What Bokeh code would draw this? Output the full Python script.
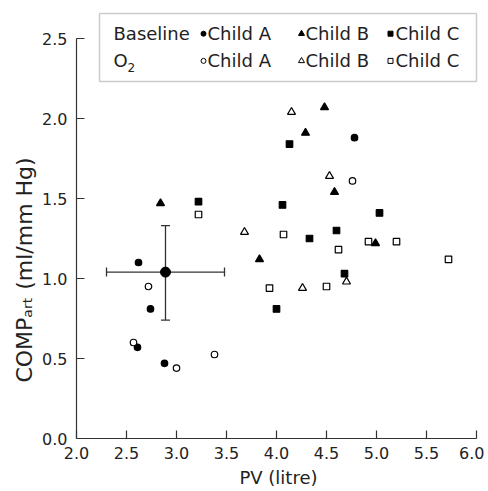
from bokeh.plotting import figure
from bokeh.models import (ColumnDataSource, Whisker, TeeHead, Label, BoxAnnotation,
                          Range1d, FixedTicker, NumeralTickFormatter)
from bokeh.embed import file_html
from bokeh.resources import INLINE

# ---------------- data ----------------
a_base_pv = [2.62, 2.74, 2.61, 2.88, 4.78]
a_base_comp = [1.10, 0.81, 0.57, 0.47, 1.88]
a_o2_pv = [2.72, 2.57, 3.00, 3.38, 4.76]
a_o2_comp = [0.95, 0.60, 0.44, 0.525, 1.61]

b_base_pv = [2.84, 3.83, 4.48, 4.29, 4.58, 4.99]
b_base_comp = [1.47, 1.12, 2.07, 1.91, 1.54, 1.22]
b_o2_pv = [3.68, 4.15, 4.53, 4.70, 4.26]
b_o2_comp = [1.29, 2.04, 1.64, 0.98, 0.94]

c_base_pv = [3.22, 4.13, 4.06, 5.03, 4.60, 4.33, 4.68, 4.00]
c_base_comp = [1.48, 1.84, 1.46, 1.41, 1.30, 1.25, 1.03, 0.81]
c_o2_pv = [3.22, 4.07, 4.92, 5.20, 4.62, 5.72, 3.93, 4.50]
c_o2_comp = [1.40, 1.275, 1.23, 1.23, 1.18, 1.12, 0.94, 0.95]

mean_pv = [2.89]
mean_comp = [1.04]
pv_lo = [2.30]
pv_hi = [3.48]
comp_lo = [0.74]
comp_hi = [1.33]

x_ticks = [2.0, 2.5, 3.0, 3.5, 4.0, 4.5, 5.0, 5.5, 6.0]
y_ticks = [0.0, 0.5, 1.0, 1.5, 2.0, 2.5]

FONT = "DejaVu Sans"
INK = "#222222"
NBSP = "\u00a0"

p = figure(frame_width=404, frame_height=428,
           x_range=Range1d(2.0, 6.04), y_range=Range1d(0.0, 2.675),
           output_backend="svg", toolbar_location=None,
           min_border_left=76, min_border_right=4, min_border_top=10, min_border_bottom=50)
p.outline_line_color = None
p.grid.visible = False
p.background_fill_color = "white"

for ax in (p.xaxis[0], p.yaxis[0]):
    ax.axis_line_color = "#333333"
    ax.axis_line_width = 1.2
    ax.major_tick_line_color = "#333333"
    ax.major_tick_line_width = 1.2
    ax.major_tick_in = 8
    ax.major_tick_out = 0
    ax.minor_tick_line_color = None
    ax.major_label_text_font = FONT
    ax.major_label_text_font_size = "16px"
    ax.major_label_text_color = INK
    ax.formatter = NumeralTickFormatter(format="0.0")
    ax.axis_label_text_font = FONT
    ax.axis_label_text_font_style = "normal"
    ax.axis_label_text_color = INK

p.xaxis[0].ticker = FixedTicker(ticks=x_ticks)
p.yaxis[0].ticker = FixedTicker(ticks=y_ticks)
p.xaxis[0].bounds = (2.0, 6.0)
p.yaxis[0].bounds = (0.0, 2.5)
p.xaxis[0].major_label_standoff = 8
p.yaxis[0].major_label_standoff = 9

p.xaxis[0].axis_label = "PV (litre)"
p.xaxis[0].axis_label_text_font_size = "18px"
p.xaxis[0].axis_label_standoff = 5
# trailing no-break spaces move the visible text towards the bottom of the axis
p.yaxis[0].axis_label = "COMP\u2090\u1d63\u209c (ml/mm Hg)" + NBSP * 13
p.yaxis[0].axis_label_text_font_size = "22px"
p.yaxis[0].axis_label_standoff = 2

# ---------------- points ----------------
def pts(xs, ys, marker, filled, size):
    src = ColumnDataSource(dict(x=xs, y=ys))
    p.scatter("x", "y", source=src, marker=marker, size=size,
              fill_color="black" if filled else "white",
              line_color="black", line_width=1.2)

# error bars for the mean
err = ColumnDataSource(dict(x=mean_pv, y=mean_comp, xl=pv_lo, xh=pv_hi, yl=comp_lo, yh=comp_hi))
for kw in (dict(base="y", lower="xl", upper="xh", dimension="width"),
           dict(base="x", lower="yl", upper="yh", dimension="height")):
    w = Whisker(source=err, line_color="#333333", line_width=1.3,
                upper_head=TeeHead(size=9, line_color="#333333", line_width=1.3),
                lower_head=TeeHead(size=9, line_color="#333333", line_width=1.3), **kw)
    p.add_layout(w)

pts(a_base_pv, a_base_comp, "circle", True, 6.5)
pts(a_o2_pv, a_o2_comp, "circle", False, 6.5)
pts(b_base_pv, b_base_comp, "triangle", True, 8)
pts(b_o2_pv, b_o2_comp, "triangle", False, 8)
pts(c_base_pv, c_base_comp, "square", True, 6.5)
pts(c_o2_pv, c_o2_comp, "square", False, 6.5)
p.scatter(mean_pv, mean_comp, marker="circle", size=10, color="black")

# ---------------- legend (drawn by hand) ----------------
p.add_layout(BoxAnnotation(left=2.23, right=6.0, bottom=2.231, top=2.656,
                           fill_color="white", fill_alpha=1.0, level="underlay",
                           line_color="#555555", line_width=1.5))
row1, row2 = 2.53, 2.36
def lab(x, y, t, size="18px", **kw):
    p.add_layout(Label(x=x, y=y, text=t, text_font=FONT, text_font_size=size,
                       text_color=INK, text_baseline="middle", **kw))
lab(2.37, row1, "Baseline")
lab(2.37, row2, "O")
lab(2.51, row2 - 0.04, "2", size="12px")
sw_x = [3.27, 4.25, 5.14]
tx_x = [3.31, 4.29, 5.19]
for mk, sx, tx, nm in zip(["circle", "triangle", "square"], sw_x, tx_x, ["Child A", "Child B", "Child C"]):
    sz = 6 if mk == "triangle" else 5
    p.scatter([sx], [row1], marker=mk, size=sz, color="black")
    p.scatter([sx], [row2], marker=mk, size=sz, fill_color="white", line_color="black", line_width=1)
    lab(tx, row1, nm)
    lab(tx, row2, nm)

open("out.html", "w").write(file_html(p, INLINE))
